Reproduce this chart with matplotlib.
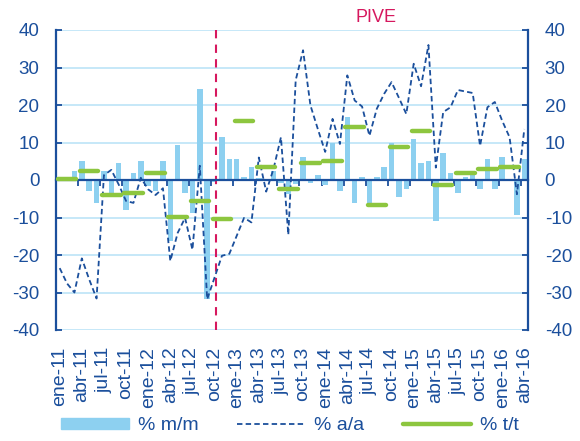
import matplotlib.pyplot as plt
import numpy as np
from matplotlib.lines import Line2D
from matplotlib.patches import Patch

plt.rcParams['font.family'] = ['Liberation Sans', 'DejaVu Sans']
plt.rcParams['axes.unicode_minus'] = False

# months ene-11 .. abr-16
mes = ['ene', 'feb', 'mar', 'abr', 'may', 'jun', 'jul', 'ago', 'sep', 'oct', 'nov', 'dic']
months = [f'{m}-{y}' for y in range(11, 17) for m in mes][:64]

# % m/m (bars)
mm = [0.3, 0.8, 2.4, 5.0, -3.0, -6.1, 2.4, -3.6, 4.5, -8.1, 1.8, 5.1,
      -1.5, -3.0, 5.1, -16.2, 9.4, -3.4, -8.8, 24.3, -31.6, -0.5, 11.5, 5.7,
      5.7, 0.9, 3.6, 0.5, 0.3, 2.4, -0.8, -3.8, -1.0, 6.2, -0.7, 1.3,
      -1.2, 9.8, -3.0, 16.7, -6.1, 0.8, -6.5, 0.8, 3.6, 9.8, -4.5, -2.3,
      10.9, 4.5, 5.1, -10.8, 7.2, 1.8, -3.4, 0.8, 1.8, -2.3, 5.5, -2.3,
      6.2, 0.3, -9.2, 5.5]

# % a/a (dashed line)
aa = [-23.5, -27.6, -30.0, -20.9, -26.5, -31.6, 1.3, 2.7, -1.2, -5.6, -6.1, 0.6,
      -2.5, -4.0, -2.2, -21.6, -14.1, -10.1, -18.6, 3.8, -31.8, -26.0, -20.2, -19.7,
      -14.9, -10.1, -11.3, 6.0, -3.1, 3.0, 11.4, -14.6, 26.6, 34.6, 19.9, 13.6,
      7.5, 16.3, 9.6, 27.9, 21.2, 19.6, 11.8, 19.0, 23.0, 26.1, 21.9, 17.6,
      31.0, 25.0, 36.0, 3.3, 18.1, 19.4, 24.0, 23.6, 23.2, 9.1, 19.4, 20.8,
      15.8, 11.4, -3.8, 13.6]

# % t/t (quarterly segments)
tt = [0.4, 2.4, -3.9, -3.5, 1.9, -9.8, -5.5, -10.4, 15.8, 3.6, -2.3,
      4.6, 5.1, 14.1, -6.6, 8.9, 13.2, -1.3, 1.9, 3.0, 3.6]

pive_month = 'oct-12'

dark_blue = '#1B4F9C'
bar_blue = '#8DD0F0'
green = '#8DC63F'
grid_blue = '#C2E6F8'
red = '#D6185E'

x = np.arange(len(months))

fig = plt.figure(figsize=(5.8, 4.41), dpi=100)
ax = fig.add_axes([56 / 580, 1 - 330 / 441, 472 / 580, 300 / 441])

ax.set_axisbelow(True)
for v in range(-40, 41, 10):
    ax.axhline(v, color=grid_blue, lw=1.3, zorder=0)

ax.bar(x, mm, width=0.75, color=bar_blue, zorder=2)
ax.plot(x, aa, color=dark_blue, lw=1.3, dashes=(3, 1.8), zorder=4)

for q, val in enumerate(tt):
    ax.plot([3 * q - 0.25, 3 * q + 2.25], [val, val], color=green, lw=3.2,
            solid_capstyle='round', zorder=5)

ax.axvline(months.index(pive_month) + 0.2, color=red, lw=1.5, dashes=(4, 3), zorder=3)

ax.set_xlim(-0.5, len(months) - 0.5)
ax.set_ylim(-40, 40)

# zero axis with quarterly tick marks
ax.spines['bottom'].set_position(('data', 0))
ax.spines['bottom'].set_color(dark_blue)
ax.spines['bottom'].set_linewidth(1.6)
ax.spines['bottom'].set_zorder(3)
ax.spines['top'].set_visible(False)
ax.set_xticks(np.arange(2.5, len(months) - 1, 3))
ax.tick_params(axis='x', direction='out', length=4, width=1.3, color=dark_blue, labelbottom=False)

for s in ['left', 'right']:
    ax.spines[s].set_color(dark_blue)
    ax.spines[s].set_linewidth(1.6)

ax.set_yticks(range(-40, 41, 10))
ax.tick_params(axis='y', direction='in', length=4, width=1.3, color=dark_blue,
               labelcolor=dark_blue, labelsize=13.5, right=True, labelright=True, pad=12)

# month labels at the bottom
sec = ax.secondary_xaxis(0.0)
sec.set_xticks(x[::3])
sec.set_xticklabels(months[::3], rotation=90, color=dark_blue, fontsize=14)
sec.tick_params(length=0, pad=12)
sec.spines['bottom'].set_visible(False)

fig.text(376 / 580, 1 - 17 / 441, 'PIVE', color=red, fontsize=13, ha='center', va='center')

handles = [Patch(color=bar_blue),
           Line2D([], [], color=dark_blue, lw=1.3, dashes=(3, 1.8)),
           Line2D([], [], color=green, lw=3.2, solid_capstyle='round')]
leg = fig.legend(handles, ['% m/m', '% a/a', '% t/t'], loc='center', ncol=3,
                 bbox_to_anchor=(0.5, 1 - 426 / 441), frameon=False, handlelength=3.5,
                 handleheight=0.46, columnspacing=2.0, handletextpad=0.45, fontsize=14,
                 borderpad=0)
for t in leg.get_texts():
    t.set_color(dark_blue)

fig.savefig('out.png', dpi=100)
